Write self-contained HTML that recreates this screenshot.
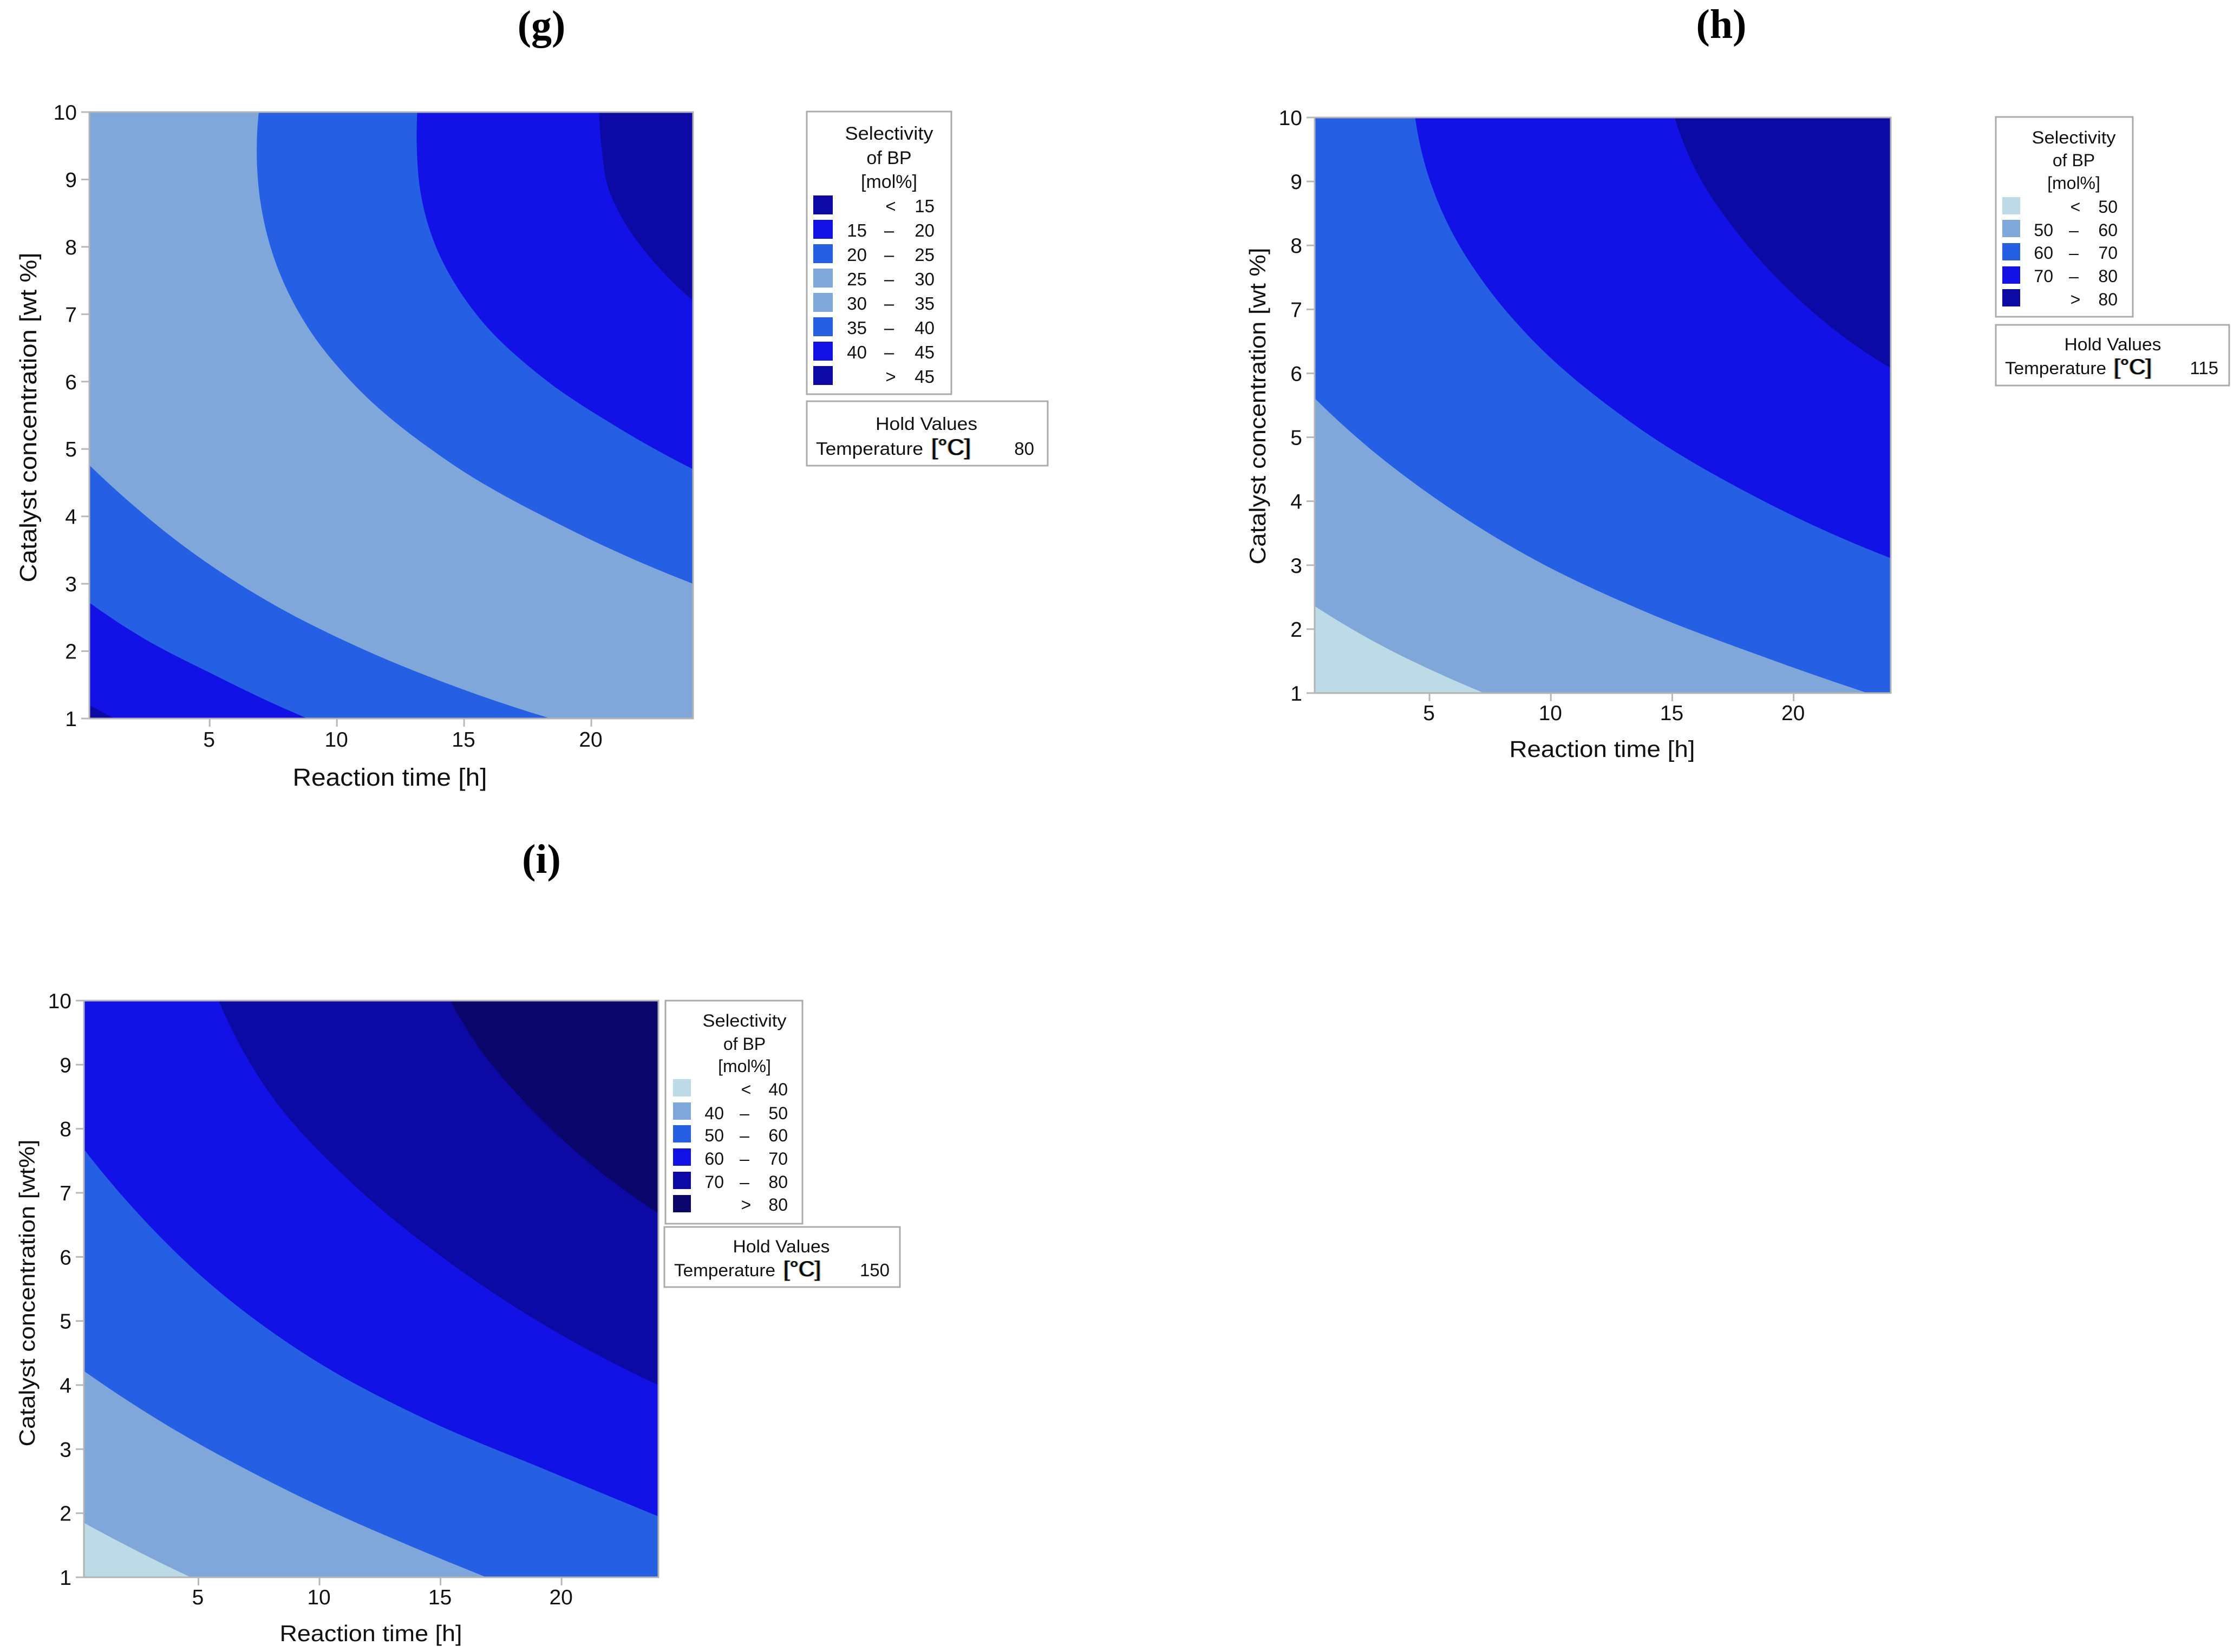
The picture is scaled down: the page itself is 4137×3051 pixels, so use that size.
<!DOCTYPE html>
<html lang="en">
<head>
<meta charset="utf-8">
<title>Selectivity of BP contour plots</title>
<style>
html,body{margin:0;padding:0;background:#fff;}
svg{display:block;}
text{font-family:"Liberation Sans","DejaVu Sans",sans-serif;fill:#111;}
.pl{font-family:"Liberation Serif",serif;font-weight:700;font-size:76px;text-anchor:middle;fill:#000;}
.box{fill:#fff;stroke:#ababab;stroke-width:3;}
.m{text-anchor:middle;}
.e{text-anchor:end;}
.l{font-size:33px;}
.l2{font-size:32px;}
.deg{font-weight:400;text-shadow:-1.5px 0 #c87a1e,1.5px 0 #2a86d0;fill:#000;}
</style>
</head>
<body>
<svg id="figure" xmlns="http://www.w3.org/2000/svg" width="4137" height="3051" viewBox="0 0 4137 3051">
<rect x="0" y="0" width="4137" height="3051" fill="#fff"/>

<text class="pl" x="1000" y="72">(g)</text>
<text class="pl" x="3179" y="70">(h)</text>
<text class="pl" x="1000" y="1612">(i)</text>

<g id="plot-g"></g>
<g id="plot-h"></g>
<g id="plot-i"></g>

<text class="m" x="720" y="1451" font-size="45" textLength="359" lengthAdjust="spacingAndGlyphs">Reaction time [h]</text>
<text class="m" transform="translate(67 771) rotate(-90)" font-size="44" textLength="609" lengthAdjust="spacingAndGlyphs">Catalyst concentration [wt %]</text>
<text class="m" x="2959" y="1398" font-size="43" textLength="343" lengthAdjust="spacingAndGlyphs">Reaction time [h]</text>
<text class="m" transform="translate(2337 750) rotate(-90)" font-size="42" textLength="585" lengthAdjust="spacingAndGlyphs">Catalyst concentration [wt %]</text>
<text class="m" x="685" y="3031" font-size="42" textLength="337" lengthAdjust="spacingAndGlyphs">Reaction time [h]</text>
<text class="m" transform="translate(64 2388) rotate(-90)" font-size="41" textLength="567" lengthAdjust="spacingAndGlyphs">Catalyst concentration [wt%]</text>

<!-- Legend g -->
<g>
<rect class="box" x="1490" y="206" width="267" height="522"/>
<g class="l m">
<text x="1642" y="258" font-size="34" textLength="163" lengthAdjust="spacingAndGlyphs">Selectivity</text>
<text x="1642" y="303" font-size="34">of BP</text>
<text x="1642" y="347" font-size="34">[mol%]</text>
</g>
<g class="l"><rect x="1502" y="361" width="36" height="35" fill="#0c09a5"/><text class="m" x="1645" y="392">&lt;</text><text class="e" x="1726" y="392">15</text></g>
<g class="l"><rect x="1502" y="406" width="36" height="35" fill="#1212e6"/><text class="e" x="1601" y="437">15</text><text class="m" x="1642" y="437">–</text><text class="e" x="1726" y="437">20</text></g>
<g class="l"><rect x="1502" y="451" width="36" height="35" fill="#255fe3"/><text class="e" x="1601" y="482">20</text><text class="m" x="1642" y="482">–</text><text class="e" x="1726" y="482">25</text></g>
<g class="l"><rect x="1502" y="496" width="36" height="35" fill="#7fa7d9"/><text class="e" x="1601" y="527">25</text><text class="m" x="1642" y="527">–</text><text class="e" x="1726" y="527">30</text></g>
<g class="l"><rect x="1502" y="541" width="36" height="35" fill="#7fa7d9"/><text class="e" x="1601" y="572">30</text><text class="m" x="1642" y="572">–</text><text class="e" x="1726" y="572">35</text></g>
<g class="l"><rect x="1502" y="586" width="36" height="35" fill="#255fe3"/><text class="e" x="1601" y="617">35</text><text class="m" x="1642" y="617">–</text><text class="e" x="1726" y="617">40</text></g>
<g class="l"><rect x="1502" y="631" width="36" height="35" fill="#1212e6"/><text class="e" x="1601" y="662">40</text><text class="m" x="1642" y="662">–</text><text class="e" x="1726" y="662">45</text></g>
<g class="l"><rect x="1502" y="676" width="36" height="35" fill="#0c09a5"/><text class="m" x="1645" y="707">&gt;</text><text class="e" x="1726" y="707">45</text></g>
</g>
<g>
<rect class="box" x="1490" y="741" width="445" height="119"/>
<text class="m" x="1711" y="794" font-size="33" textLength="188" lengthAdjust="spacingAndGlyphs">Hold Values</text>
<text x="1507" y="840" font-size="33" textLength="198" lengthAdjust="spacingAndGlyphs">Temperature</text>
<text class="deg" x="1720" y="840" font-size="42" textLength="73" lengthAdjust="spacingAndGlyphs">[°C]</text>
<text class="e" x="1910" y="840" font-size="33">80</text>
</g>

<!-- Legend h -->
<g>
<rect class="box" x="3686" y="216" width="253" height="369"/>
<g class="l2 m">
<text x="3830" y="265" font-size="32" textLength="155" lengthAdjust="spacingAndGlyphs">Selectivity</text>
<text x="3830" y="307" font-size="32">of BP</text>
<text x="3830" y="349" font-size="32">[mol%]</text>
</g>
<g class="l2"><rect x="3698" y="364" width="33" height="32" fill="#bddbe6"/><text class="m" x="3833" y="393">&lt;</text><text class="e" x="3911" y="393">50</text></g>
<g class="l2"><rect x="3698" y="406" width="33" height="32" fill="#7fa7d9"/><text class="e" x="3792" y="436">50</text><text class="m" x="3830" y="436">–</text><text class="e" x="3911" y="436">60</text></g>
<g class="l2"><rect x="3698" y="449" width="33" height="32" fill="#255fe3"/><text class="e" x="3792" y="478">60</text><text class="m" x="3830" y="478">–</text><text class="e" x="3911" y="478">70</text></g>
<g class="l2"><rect x="3698" y="492" width="33" height="32" fill="#1212e6"/><text class="e" x="3792" y="521">70</text><text class="m" x="3830" y="521">–</text><text class="e" x="3911" y="521">80</text></g>
<g class="l2"><rect x="3698" y="534" width="33" height="32" fill="#0c09a5"/><text class="m" x="3833" y="564">&gt;</text><text class="e" x="3911" y="564">80</text></g>
</g>
<g>
<rect class="box" x="3686" y="600" width="431" height="112"/>
<text class="m" x="3902" y="647" font-size="32" textLength="179" lengthAdjust="spacingAndGlyphs">Hold Values</text>
<text x="3703" y="691" font-size="32" textLength="187" lengthAdjust="spacingAndGlyphs">Temperature</text>
<text class="deg" x="3904" y="691" font-size="40" textLength="70" lengthAdjust="spacingAndGlyphs">[°C]</text>
<text class="e" x="4097" y="691" font-size="33">115</text>
</g>

<!-- Legend i -->
<g>
<rect class="box" x="1229" y="1848" width="253" height="412"/>
<g class="l2 m">
<text x="1375" y="1896" font-size="32" textLength="155" lengthAdjust="spacingAndGlyphs">Selectivity</text>
<text x="1375" y="1939" font-size="32">of BP</text>
<text x="1375" y="1980" font-size="32">[mol%]</text>
</g>
<g class="l2"><rect x="1243" y="1993" width="33" height="32" fill="#bddbe6"/><text class="m" x="1378" y="2023">&lt;</text><text class="e" x="1455" y="2023">40</text></g>
<g class="l2"><rect x="1243" y="2036" width="33" height="32" fill="#7fa7d9"/><text class="e" x="1337" y="2067">40</text><text class="m" x="1375" y="2067">–</text><text class="e" x="1455" y="2067">50</text></g>
<g class="l2"><rect x="1243" y="2078" width="33" height="32" fill="#255fe3"/><text class="e" x="1337" y="2108">50</text><text class="m" x="1375" y="2108">–</text><text class="e" x="1455" y="2108">60</text></g>
<g class="l2"><rect x="1243" y="2121" width="33" height="32" fill="#1212e6"/><text class="e" x="1337" y="2151">60</text><text class="m" x="1375" y="2151">–</text><text class="e" x="1455" y="2151">70</text></g>
<g class="l2"><rect x="1243" y="2164" width="33" height="32" fill="#0c09a5"/><text class="e" x="1337" y="2194">70</text><text class="m" x="1375" y="2194">–</text><text class="e" x="1455" y="2194">80</text></g>
<g class="l2"><rect x="1243" y="2207" width="33" height="32" fill="#0a066b"/><text class="m" x="1378" y="2236">&gt;</text><text class="e" x="1455" y="2236">80</text></g>
</g>
<g>
<rect class="box" x="1227" y="2266" width="435" height="111"/>
<text class="m" x="1443" y="2313" font-size="32" textLength="179" lengthAdjust="spacingAndGlyphs">Hold Values</text>
<text x="1245" y="2357" font-size="32" textLength="187" lengthAdjust="spacingAndGlyphs">Temperature</text>
<text class="deg" x="1447" y="2357" font-size="40" textLength="69" lengthAdjust="spacingAndGlyphs">[°C]</text>
<text class="e" x="1643" y="2357" font-size="33">150</text>
</g>
</svg>

<script>
// Axis data
const xDomain = [0.27, 24];
const yDomain = [1, 10];
const xTickValues = [5, 10, 15, 20];
const yTickValues = [1, 2, 3, 4, 5, 6, 7, 8, 9, 10];

// Contour boundaries: [reaction time h, catalyst wt%]
const gBoundary15 = [[0.27,1.2],[1.25,1]];
const gBoundary20 = [[0.27,2.72],[2.45,2.18],[5,1.68],[7.4,1.24],[8.84,1]];
const gBoundary25 = [[0.27,4.76],[2.07,4.14],[3.87,3.59],[7.47,2.7],[11.08,2.02],[14.68,1.47],[18.4,1]];
const gBoundary35 = [[6.93,10],[6.85,9.42],[7.11,8.42],[7.85,7.52],[9.01,6.72],[10.54,6.01],[14.44,4.8],[19.08,3.82],[24,3]];
const gBoundary40 = [[13.16,10],[13.14,9.5],[13.31,8.76],[13.79,8.1],[15.52,6.98],[18.02,6.08],[20.95,5.34],[24,4.7]];
const gBoundary45 = [[20.31,10],[20.42,9.42],[20.66,8.88],[21.28,8.38],[22.14,7.92],[23.09,7.52],[24,7.2]];

const hBoundary50 = [[0.27,2.36],[2.55,1.84],[5.89,1.22],[7.25,1]];
const hBoundary60 = [[0.27,5.61],[2.52,4.83],[4.78,4.17],[9.31,3.09],[13.84,2.28],[18.37,1.62],[23.05,1]];
const hBoundary70 = [[4.41,10],[4.97,9.07],[5.95,8.19],[7.33,7.37],[9.04,6.6],[13.31,5.23],[18.42,4.07],[24,3.11]];
const hBoundary80 = [[15.1,10],[16.03,9.13],[17.59,8.24],[19.57,7.39],[21.78,6.65],[24,6.08]];

const iBoundary40 = [[0.27,1.85],[2,1.5],[4.68,1]];
const iBoundary50 = [[0.27,4.22],[3.58,3.4],[6.89,2.7],[10.19,2.08],[13.49,1.53],[16.9,1]];
const iBoundary60 = [[0.27,7.68],[2.6,6.64],[4.94,5.76],[9.66,4.42],[14.42,3.46],[19.2,2.7],[24,1.95]];
const iBoundary70 = [[5.84,10],[7.93,8.56],[11.29,7.17],[15.42,5.9],[19.82,4.82],[24,4]];
const iBoundary80 = [[15.41,10],[16.6,9.26],[18.24,8.51],[20.15,7.79],[22.14,7.17],[24,6.68]];

const gLevels = [15, 20, 25, 35, 40, 45];
const hLevels = [50, 60, 70, 80];
const iLevels = [40, 50, 60, 70, 80];

// Styles and layout, separate from the data
const DARK = '#0c09a5', BRIGHT = '#1212e6', MEDIUM = '#255fe3', LIGHT = '#7fa7d9', PALE = '#bddbe6', DARKEST = '#0a066b';
const panels = [
  {id:'g', frame:{left:165,right:1280,top:207,bottom:1327},
   boundaries:[gBoundary15,gBoundary20,gBoundary25,gBoundary35,gBoundary40,gBoundary45], levels:gLevels,
   colors:[DARK,BRIGHT,MEDIUM,LIGHT,MEDIUM,BRIGHT,DARK], xLabelGap:52},
  {id:'h', frame:{left:2428,right:3492,top:217,bottom:1280},
   boundaries:[hBoundary50,hBoundary60,hBoundary70,hBoundary80], levels:hLevels,
   colors:[PALE,LIGHT,MEDIUM,BRIGHT,DARK], xLabelGap:50},
  {id:'i', frame:{left:155,right:1216,top:1848,bottom:2913},
   boundaries:[iBoundary40,iBoundary50,iBoundary60,iBoundary70,iBoundary80], levels:iLevels,
   colors:[PALE,LIGHT,MEDIUM,BRIGHT,DARK,DARKEST], xLabelGap:50}
];

const NS = 'http://www.w3.org/2000/svg';
function make(tag, parent, attrs) {
  const node = document.createElementNS(NS, tag);
  for (const key in attrs) node.setAttribute(key, attrs[key]);
  parent.appendChild(node);
  return node;
}

// Smooth spline whose tangents account for uneven point spacing
function smoothPath(pts) {
  const n = pts.length;
  const unit = function (v) { const m = Math.hypot(v[0], v[1]) || 1; return [v[0] / m, v[1] / m]; };
  const chord = [], dir = [];
  for (let i = 0; i < n - 1; i++) {
    const v = [pts[i + 1][0] - pts[i][0], pts[i + 1][1] - pts[i][1]];
    chord.push(Math.hypot(v[0], v[1]) || 1);
    dir.push(unit(v));
  }
  const tan = new Array(n);
  for (let i = 1; i < n - 1; i++) {
    const a = chord[i - 1], b = chord[i];
    tan[i] = unit([(b * dir[i - 1][0] + a * dir[i][0]) / (a + b), (b * dir[i - 1][1] + a * dir[i][1]) / (a + b)]);
  }
  if (n > 2) {
    tan[0] = unit([2 * dir[0][0] - tan[1][0], 2 * dir[0][1] - tan[1][1]]);
    tan[n - 1] = unit([2 * dir[n - 2][0] - tan[n - 2][0], 2 * dir[n - 2][1] - tan[n - 2][1]]);
  } else {
    tan[0] = dir[0];
    tan[1] = dir[0];
  }
  let d = 'M' + pts[0][0].toFixed(1) + ' ' + pts[0][1].toFixed(1);
  for (let i = 0; i < n - 1; i++) {
    const h = chord[i] / 3;
    d += 'C' + (pts[i][0] + tan[i][0] * h).toFixed(1) + ' ' + (pts[i][1] + tan[i][1] * h).toFixed(1) + ' ' +
      (pts[i + 1][0] - tan[i + 1][0] * h).toFixed(1) + ' ' + (pts[i + 1][1] - tan[i + 1][1] * h).toFixed(1) + ' ' +
      pts[i + 1][0].toFixed(1) + ' ' + pts[i + 1][1].toFixed(1);
  }
  return d;
}

panels.forEach(function (panel) {
  const root = document.getElementById('plot-' + panel.id);
  const f = panel.frame;
  const sx = function (t) { return f.left + (t - xDomain[0]) / (xDomain[1] - xDomain[0]) * (f.right - f.left); };
  const sy = function (c) { return f.bottom - (c - yDomain[0]) / (yDomain[1] - yDomain[0]) * (f.bottom - f.top); };

  const clip = make('clipPath', root, {id: 'clip-' + panel.id});
  make('rect', clip, {x: f.left, y: f.top, width: f.right - f.left, height: f.bottom - f.top});

  const regions = make('g', root, {'clip-path': 'url(#clip-' + panel.id + ')'});
  
  

  const base = make('rect', regions, {x: f.left, y: f.top, width: f.right - f.left, height: f.bottom - f.top, fill: panel.colors[0]});
  
  

  panel.boundaries.forEach(function (boundary, k) {
    const first = boundary[0], last = boundary[boundary.length - 1];
    let d = smoothPath(boundary.map(function (p) { return [sx(p[0]), sy(p[1])]; }));
    if (last[0] < xDomain[1]) d += 'L' + sx(xDomain[1]) + ' ' + sy(yDomain[0]);
    d += 'L' + sx(xDomain[1]) + ' ' + sy(yDomain[1]);
    if (first[1] < yDomain[1]) d += 'L' + sx(xDomain[0]) + ' ' + sy(yDomain[1]);
    d += 'Z';
    const band = make('path', regions, {d: d, fill: panel.colors[k + 1]});
    
    
  });

  const frame = make('rect', root, {x: f.left, y: f.top, width: f.right - f.left, height: f.bottom - f.top, fill: 'none', stroke: '#b3b3b3', 'stroke-width': 3});
  
  

  xTickValues.forEach(function (v) {
    const tick = make('line', root, {x1: sx(v), x2: sx(v), y1: f.bottom, y2: f.bottom + 15, stroke: '#b8b8b8', 'stroke-width': 3});
    
    
    const label = make('text', root, {x: sx(v) - 1, y: f.bottom + panel.xLabelGap, 'text-anchor': 'middle', 'font-size': 39});
    
    
    label.textContent = String(v);
  });

  yTickValues.forEach(function (v) {
    const tick = make('line', root, {x1: f.left - 15, x2: f.left, y1: sy(v), y2: sy(v), stroke: '#b8b8b8', 'stroke-width': 3});
    
    
    const label = make('text', root, {x: f.left - 23, y: sy(v) + 14, 'text-anchor': 'end', 'font-size': 39});
    
    
    label.textContent = String(v);
  });
});
</script>
</body>
</html>
